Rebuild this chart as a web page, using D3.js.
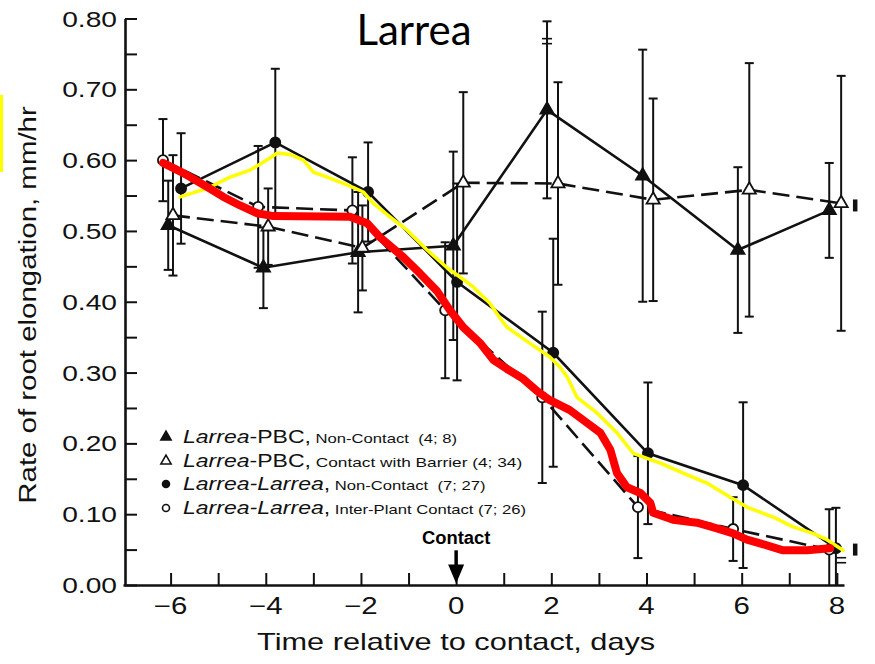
<!DOCTYPE html>
<html><head><meta charset="utf-8">
<script src="https://cdn.jsdelivr.net/npm/d3@7"></script>
<style>body{margin:0;background:#fff;} svg{display:block;} text{white-space:pre;}</style>
</head><body><svg id="chart" width="875" height="664"></svg>
<script>
// ---------------- DATA ----------------
const chartTitle = "Larrea";
const xLabel = "Time relative to contact, days";
const yLabel = "Rate of root elongation, mm/hr";
const xTickValues = [-6, -4, -2, 0, 2, 4, 6, 8];
const xMinorTicks = [-6,-5,-4,-3,-2,-1,0,1,2,3,4,5,6,7,8];
const yTickValues = [0, 0.1, 0.2, 0.3, 0.4, 0.5, 0.6, 0.7, 0.8];
const yMinorTicks = [0,0.05,0.1,0.15,0.2,0.25,0.3,0.35,0.4,0.45,0.5,0.55,0.6,0.65,0.7,0.75,0.8];

// Larrea-PBC, Non-Contact (filled triangle, solid)
const pbcNonContactDays = [-6.05, -4.05, -2.06, -0.06, 1.91, 3.92, 5.92, 7.84];
const pbcNonContactRate = [0.508, 0.448, 0.470, 0.479, 0.671, 0.578, 0.473, 0.529];
const pbcNonContactSE   = [0.063, 0.057, 0.085, 0.133, 0.125, 0.178, 0.117, 0.067];

// Larrea-PBC, Contact with Barrier (open triangle, dashed)
const pbcBarrierDays = [-5.95, -3.95, -1.97, 0.15, 2.14, 4.14, 6.16, 8.09];
const pbcBarrierRate = [0.522, 0.506, 0.476, 0.568, 0.567, 0.544, 0.558, 0.539];
const pbcBarrierSE   = [0.085, 0.054, 0.060, 0.128, 0.143, 0.143, 0.179, 0.180];

// Larrea-Larrea, Non-Contact (filled circle, solid)
const llNonContactDays = [-5.78, -3.80, -1.85, 0.02, 2.04, 4.03, 6.03, 7.98];
const llNonContactRate = [0.560, 0.625, 0.555, 0.428, 0.328, 0.186, 0.141, 0.052];
const llNonContactSE   = [0.078, 0.104, 0.070, 0.139, 0.161, 0.100, 0.117, 0.057];

// Larrea-Larrea, Inter-Plant Contact (open circle, dashed)
const llContactDays = [-6.16, -4.16, -2.18, -0.23, 1.81, 3.82, 5.82, 7.84];
const llContactRate = [0.600, 0.534, 0.529, 0.388, 0.265, 0.110, 0.079, 0.050];
const llContactSE   = [0.058, 0.086, 0.075, 0.096, 0.121, 0.072, 0.045, 0.057];

// hand-drawn red trace
const redDays = [-6.16,-5.74,-5.23,-4.89,-4.54,-4.18,-3.84,-2.23,-1.87,-1.60,-1.11,-0.76,-0.40,-0.13,0.15,0.50,0.78,1.07,1.41,1.70,1.97,2.39,2.75,3.03,3.24,3.38,3.59,3.87,4.08,4.14,4.56,5.06,5.48,5.82,6.11,6.53,6.87,7.37,7.86];
const redRate = [0.596,0.582,0.562,0.548,0.536,0.525,0.521,0.520,0.511,0.491,0.463,0.440,0.415,0.388,0.364,0.342,0.318,0.305,0.291,0.274,0.261,0.247,0.229,0.215,0.191,0.158,0.138,0.130,0.116,0.102,0.092,0.088,0.080,0.073,0.064,0.056,0.049,0.049,0.052];

// hand-drawn yellow trace
const yellowDays = [-5.80,-5.23,-4.75,-4.33,-3.91,-3.76,-3.49,-3.21,-3.00,-2.71,-2.29,-1.95,-1.74,-1.39,-1.03,-0.61,-0.19,0.08,0.36,0.71,0.92,1.07,1.49,1.97,2.18,2.33,2.54,2.96,3.38,3.72,4.29,4.77,5.27,5.76,6.11,6.66,7.08,7.50,7.79,8.13];
const yellowRate = [0.548,0.560,0.576,0.586,0.603,0.610,0.608,0.600,0.583,0.576,0.565,0.555,0.539,0.520,0.501,0.473,0.448,0.435,0.421,0.398,0.377,0.364,0.344,0.322,0.308,0.294,0.265,0.243,0.215,0.186,0.172,0.158,0.144,0.124,0.110,0.096,0.082,0.073,0.064,0.049];

// scan marks
const breakMarkDays = [1.91, 8.09];
const breakMarkRate = [0.768, 0.035];
const scanBlotDays = [8.38, 8.38];
const scanBlotRate = [0.536, 0.050];

const contactLabel = "Contact";
const contactDay = 0;

const legendItalic = ["Larrea", "Larrea", "Larrea-Larrea", "Larrea-Larrea"];
const legendUpright = ["-PBC,", "-PBC,", ",", ","];
const legendSmall = ["Non-Contact  (4; 8)", "Contact with Barrier (4; 34)", "Non-Contact  (7; 27)", "Inter-Plant Contact (7; 26)"];

// ---------------- CHART ----------------
const svg = d3.select("#chart");
const x = d3.scaleLinear().domain([-7, 8.15]).range([123, 844]);
const y = d3.scaleLinear().domain([0, 0.8]).range([585, 18.5]);
const SX = 1.28;   // horizontal stretch of scanned lettering
const F = "'Liberation Sans', Arial, Helvetica, sans-serif";

// yellow highlight at left edge
svg.append("rect").attr("x", 0).attr("y", 95).attr("width", 3).attr("height", 77).attr("fill", "#ffff00");

// axes
const yAxis = d3.axisLeft(y).tickValues(yMinorTicks).tickSize(-12).tickSizeOuter(0).tickFormat("");
const xAxis = d3.axisBottom(x).tickValues(xMinorTicks).tickSize(-12).tickSizeOuter(0).tickFormat("");
const gy = svg.append("g").attr("transform", `translate(${x(-7)+2},0)`).call(yAxis);
const gx = svg.append("g").attr("transform", `translate(0,${y(0)})`).call(xAxis);
[gx, gy].forEach(g => {
  g.select(".domain").attr("stroke", "#111").attr("stroke-width", 2.6);
  g.selectAll(".tick line").attr("stroke", "#111").attr("stroke-width", 2);
});

function stretched(parent, px, py, anchor, rot) {
  return parent.append("text")
    .attr("transform", `translate(${px},${py})` + (rot ? ` rotate(${rot})` : "") + ` scale(${SX},1)`)
    .attr("text-anchor", anchor)
    .attr("font-family", F)
    .attr("fill", "#111");
}

// y tick labels
yTickValues.forEach(v => {
  stretched(svg, 117, y(v) + 8, "end").attr("font-size", 22).text(d3.format(".2f")(v));
});
// x tick labels
xTickValues.forEach(v => {
  stretched(svg, x(v), 614, "middle").attr("font-size", 23).text(d3.format("")(v).replace("-", "\u2212"));
});
// axis titles
stretched(svg, x(0.0), 650, "middle").attr("font-size", 24).text(xLabel);
stretched(svg, 36, 305, "middle", -90).attr("font-size", 23).text(yLabel);

// title
svg.append("text").attr("x", 414).attr("y", 45).attr("text-anchor", "middle")
  .attr("font-family", "Lato, 'Open Sans', sans-serif").attr("font-size", 42).attr("fill", "#000").text(chartTitle);

// series
const series = [
  {days: pbcNonContactDays, rate: pbcNonContactRate, se: pbcNonContactSE, sym: d3.symbolTriangle, fill: "#111", dash: null},
  {days: pbcBarrierDays, rate: pbcBarrierRate, se: pbcBarrierSE, sym: d3.symbolTriangle, fill: "#fff", dash: "17,7"},
  {days: llNonContactDays, rate: llNonContactRate, se: llNonContactSE, sym: d3.symbolCircle, fill: "#111", dash: null},
  {days: llContactDays, rate: llContactRate, se: llContactSE, sym: d3.symbolCircle, fill: "#fff", dash: "17,7"}
];
const line = d3.line().x(d => x(d[0])).y(d => y(d[1]));

// error bars
series.forEach(s => {
  const g = svg.append("g").attr("stroke", "#111").attr("stroke-width", 2);
  s.days.forEach((d, i) => {
    const lo = Math.max(0, s.rate[i] - s.se[i]), hi = s.rate[i] + s.se[i];
    const cx = x(d);
    g.append("line").attr("x1", cx).attr("x2", cx).attr("y1", y(lo)).attr("y2", y(hi));
    g.append("line").attr("x1", cx - 4.5).attr("x2", cx + 4.5).attr("y1", y(hi)).attr("y2", y(hi));
    if (lo > 0) g.append("line").attr("x1", cx - 4.5).attr("x2", cx + 4.5).attr("y1", y(lo)).attr("y2", y(lo));
  });
});
// break marks
breakMarkDays.forEach((d, i) => {
  const g = svg.append("g").attr("stroke", "#111").attr("stroke-width", 1.6);
  [-2.5, 2.5].forEach(o => g.append("line").attr("x1", x(d) - 5).attr("x2", x(d) + 5)
    .attr("y1", y(breakMarkRate[i]) + o).attr("y2", y(breakMarkRate[i]) + o));
});
// lines
series.forEach(s => {
  svg.append("path").datum(s.days.map((d, i) => [d, s.rate[i]]))
    .attr("d", line).attr("fill", "none").attr("stroke", "#111").attr("stroke-width", 2.6)
    .attr("stroke-dasharray", s.dash);
});
// markers
series.forEach(s => {
  svg.append("g").selectAll("path").data(s.days.map((d, i) => [d, s.rate[i]])).join("path")
    .attr("transform", d => `translate(${x(d[0])},${y(d[1])})`)
    .attr("d", d3.symbol().type(s.sym).size(s.sym === d3.symbolCircle ? 80 : 75))
    .attr("fill", s.fill).attr("stroke", "#111").attr("stroke-width", 1.8);
});
// scan blots
scanBlotDays.forEach((d, i) => {
  svg.append("rect").attr("x", x(d) - 2).attr("y", y(scanBlotRate[i]) - 6).attr("width", 4.5).attr("height", 12).attr("fill", "#111");
});

// contact arrow
const ax = x(contactDay);
svg.append("line").attr("x1", ax).attr("x2", ax).attr("y1", y(0.049)).attr("y2", y(0.022)).attr("stroke", "#000").attr("stroke-width", 3.5);
svg.append("path").attr("d", `M${ax-8},${y(0.029)} L${ax+8},${y(0.029)} L${ax},${y(0.002)} Z`).attr("fill", "#000");
svg.append("text").attr("transform", `translate(${ax},${y(0.058)}) scale(1.05,1)`).attr("text-anchor", "middle")
  .attr("font-family", F).attr("font-weight", "bold").attr("font-size", 17.5).attr("fill", "#000").text(contactLabel);

// hand-drawn traces
svg.append("path").datum(yellowDays.map((d, i) => [d, yellowRate[i]]))
  .attr("d", line).attr("fill", "none").attr("stroke", "#ffff00").attr("stroke-width", 3.5)
  .attr("stroke-linejoin", "round").attr("stroke-linecap", "round");
svg.append("path").datum(redDays.map((d, i) => [d, redRate[i]]))
  .attr("d", line).attr("fill", "none").attr("stroke", "#ff0000").attr("stroke-width", 8)
  .attr("stroke-linejoin", "round").attr("stroke-linecap", "round");

// legend
const legendSyms = [d3.symbolTriangle, d3.symbolTriangle, d3.symbolCircle, d3.symbolCircle];
const legendFills = ["#111", "#fff", "#111", "#fff"];
const legendRowY = [443, 467, 490, 514];
legendItalic.forEach((t, i) => {
  svg.append("path").attr("transform", `translate(166,${legendRowY[i] - 6})`)
    .attr("d", d3.symbol().type(legendSyms[i]).size(i < 2 ? 45 : 38))
    .attr("fill", legendFills[i]).attr("stroke", "#111").attr("stroke-width", 1.6);
  const tx = stretched(svg, 183, legendRowY[i], "start");
  tx.append("tspan").attr("font-size", 18).attr("font-style", "italic").text(t);
  tx.append("tspan").attr("font-size", 18).text(legendUpright[i]);
  tx.append("tspan").attr("font-size", i === 1 ? 13.5 : 13).text(" " + legendSmall[i]);
});
</script></body></html>
